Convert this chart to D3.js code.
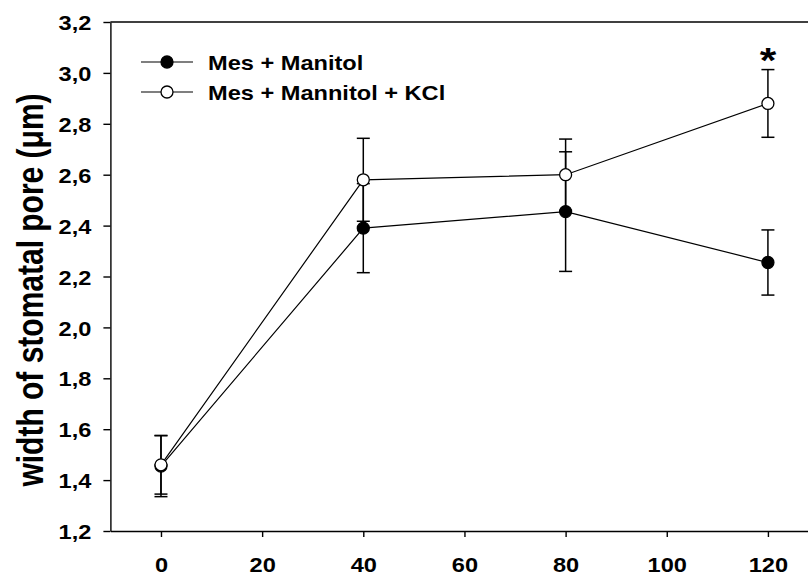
<!DOCTYPE html>
<html lang="en">
<head>
<meta charset="utf-8">
<script src="https://d3js.org/d3.v7.min.js"></script>
<style type="text/css">
body {
	margin: 0;
	background: #fff;
}
text {
	font-family: "Liberation Sans", Arial, sans-serif;
	font-weight: bold;
	fill: #000;
}
</style>
</head>
<body>
<script type="text/javascript">

// time points (x) and the two series
var times = [0, 40, 80, 120];
var seriesNames = ["Mes + Manitol", "Mes + Mannitol + KCl"];
var manitolMean = [1.455, 2.39, 2.455, 2.255];
var manitolErr  = [0.12, 0.175, 0.235, 0.128];
var kclMean     = [1.46, 2.58, 2.60, 2.88];
var kclErr      = [0.115, 0.163, 0.14, 0.133];
var xTicks = [0, 20, 40, 60, 80, 100, 120];
var yTicks = [1.2, 1.4, 1.6, 1.8, 2.0, 2.2, 2.4, 2.6, 2.8, 3.0, 3.2];
var yTitle = "width of stomatal pore (\u03bcm)";
var starLabel = {time: 120, text: "*"};

var width = 808;
var height = 576;
var sx = 1.18;   // the picture's text is a bit wider than plain Arial

var svg = d3.select("body")
			.append("svg")
			.attr("width", width)
			.attr("height", height);

var x = d3.scaleLinear()
		  .domain([-10, 130])
		  .range([110.4, 818.5]);

var y = d3.scaleLinear()
		  .domain([1.2, 3.2])
		  .range([531, 22]);

// top frame line (right side runs off the picture)
svg.append("line")
   .attr("x1", x(-10))
   .attr("x2", x(130))
   .attr("y1", y(3.2))
   .attr("y2", y(3.2))
   .style("stroke", "#000")
   .style("stroke-width", 1.4);

// y axis
var yAxis = svg.append("g")
			   .attr("transform", "translate(" + x(-10) + ",0)")
			   .call(d3.axisLeft(y)
					   .tickValues(yTicks)
					   .tickSize(7)
					   .tickSizeOuter(0)
					   .tickFormat(function(d) { return d3.format(".1f")(d).replace(".", ","); }));

yAxis.selectAll("text")
	 .attr("x", -19 / sx)
	 .attr("dy", "0.38em")
	 .attr("transform", "scale(" + sx + ",1)")
	 .style("font-size", "20px");

// x axis
var xAxis = svg.append("g")
			   .attr("transform", "translate(0," + y(1.2) + ")")
			   .call(d3.axisBottom(x)
					   .tickValues(xTicks)
					   .tickSize(6)
					   .tickSizeOuter(0)
					   .tickPadding(21));

xAxis.selectAll("text")
	 .attr("transform", "scale(" + sx + ",1)")
	 .style("font-size", "20px");

svg.selectAll(".domain, .tick line")
   .style("stroke", "#000")
   .style("stroke-width", 1.4);

// axis title
svg.append("text")
   .attr("transform", "translate(43,290) rotate(-90) scale(1,1.25)")
   .attr("text-anchor", "middle")
   .style("font-size", "30px")
   .text(yTitle);

var line = d3.line()
			 .x(function(d) { return x(d.t); })
			 .y(function(d) { return y(d.m); });

function drawSeries(means, errs, fill) {
  var data = times.map(function(t, i) { return {t: t, m: means[i], e: errs[i]}; });

  svg.append("path")
	 .datum(data)
	 .attr("d", line)
	 .style("fill", "none")
	 .style("stroke", "#000")
	 .style("stroke-width", 1.2);

  var bars = svg.append("g").selectAll("g")
				.data(data)
				.enter()
				.append("g")
				.style("stroke", "#000")
				.style("stroke-width", 1.5);

  bars.append("line")
	  .attr("x1", function(d) { return x(d.t); })
	  .attr("x2", function(d) { return x(d.t); })
	  .attr("y1", function(d) { return y(d.m - d.e); })
	  .attr("y2", function(d) { return y(d.m + d.e); });

  bars.append("line")
	  .attr("x1", function(d) { return x(d.t) - 6.5; })
	  .attr("x2", function(d) { return x(d.t) + 6.5; })
	  .attr("y1", function(d) { return y(d.m + d.e); })
	  .attr("y2", function(d) { return y(d.m + d.e); });

  bars.append("line")
	  .attr("x1", function(d) { return x(d.t) - 6.5; })
	  .attr("x2", function(d) { return x(d.t) + 6.5; })
	  .attr("y1", function(d) { return y(d.m - d.e); })
	  .attr("y2", function(d) { return y(d.m - d.e); });

  svg.append("g").selectAll("circle")
	 .data(data)
	 .enter()
	 .append("circle")
	 .attr("cx", function(d) { return x(d.t); })
	 .attr("cy", function(d) { return y(d.m); })
	 .attr("r", 6)
	 .style("fill", fill)
	 .style("stroke", "#000")
	 .style("stroke-width", 1.3);
}

drawSeries(manitolMean, manitolErr, "#000");
drawSeries(kclMean, kclErr, "#fff");

// significance mark
var starIdx = times.indexOf(starLabel.time);
svg.append("text")
   .attr("transform", "translate(" + x(starLabel.time) + "," + (y(kclMean[starIdx] + kclErr[starIdx]) + 2) + ") scale(" + sx + ",1)")
   .attr("text-anchor", "middle")
   .style("font-size", "36px")
   .text(starLabel.text);

// legend
var legend = svg.append("g")
				.selectAll("g")
				.data(seriesNames)
				.enter()
				.append("g")
				.attr("transform", function(d, i) { return "translate(141," + (62 + i * 30) + ")"; });

legend.append("line")
	  .attr("x1", 0)
	  .attr("x2", 52)
	  .style("stroke", "#000")
	  .style("stroke-width", 1.2);

legend.append("circle")
	  .attr("cx", 26)
	  .attr("r", 6)
	  .style("fill", function(d, i) { return i == 0 ? "#000" : "#fff"; })
	  .style("stroke", "#000")
	  .style("stroke-width", 1.3);

legend.append("text")
	  .attr("transform", "translate(67,7.5) scale(" + sx + ",1)")
	  .style("font-size", "20px")
	  .text(function(d) { return d; });

</script>
</body>
</html>
